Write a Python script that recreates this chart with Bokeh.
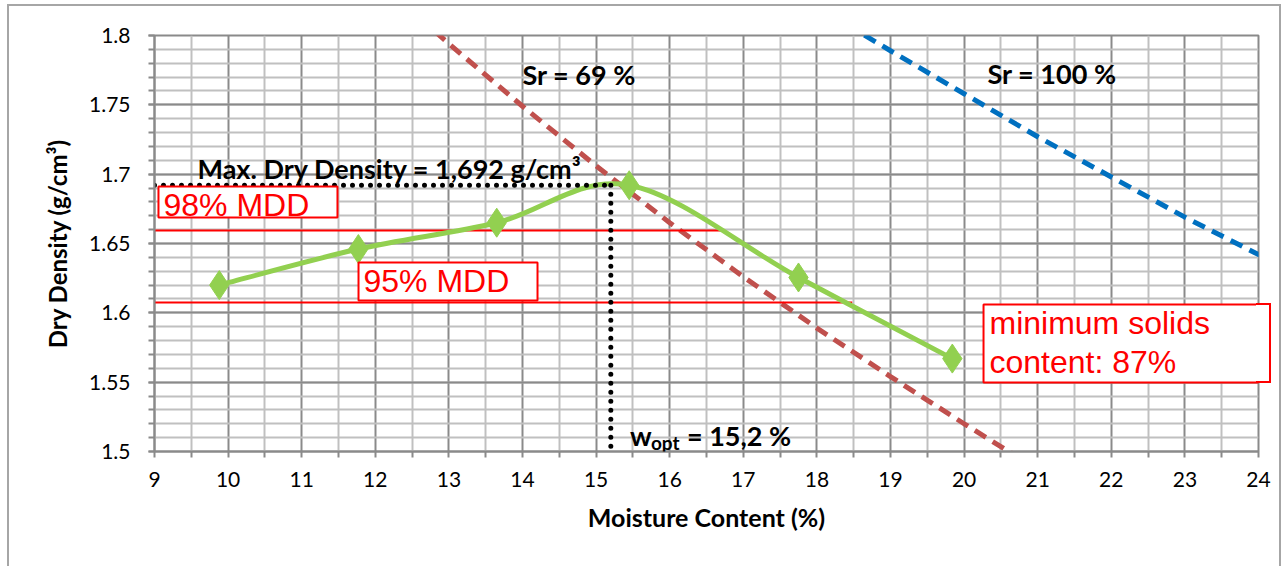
from bokeh.plotting import figure
from bokeh.models import FixedTicker, Label, BoxAnnotation, Range1d, InlineStyleSheet
from bokeh.embed import file_html
from bokeh.resources import INLINE

# ---- data ----
moisture = [9.88, 11.77, 13.65, 15.45, 17.75, 19.84]
dry_density = [1.620, 1.646, 1.665, 1.692, 1.6255, 1.567]

sr69_w = [12.6, 13.0, 14.0, 15.0, 16.0, 17.0, 18.0, 19.0, 20.0, 21.0]
sr69_rho = [1.813, 1.794, 1.749, 1.706, 1.665, 1.626, 1.589, 1.554, 1.520, 1.487]

sr100_w = [18.4, 19.0, 20.0, 21.0, 22.0, 23.0, 24.0, 24.2]
sr100_rho = [1.808, 1.789, 1.758, 1.727, 1.698, 1.669, 1.642, 1.637]

mdd = 1.692
w_opt = 15.2
mdd98_x = [9.0, 16.72]
mdd98_y = [1.6594, 1.6594]
mdd95_x = [9.0, 18.48]
mdd95_y = [1.6074, 1.6074]
mdd_h_x = [9.0, w_opt]
mdd_h_y = [mdd, mdd]
wopt_v_x = [w_opt, w_opt]
wopt_v_y = [mdd, 1.5]

x_ticks = list(range(9, 25))
x_minor = [9.5 + i for i in range(15)]
y_ticks = [1.5, 1.55, 1.6, 1.65, 1.7, 1.75, 1.8]
y_labels = ["1.5", "1.55", "1.6", "1.65", "1.7", "1.75", "1.8"]
y_minor = [round(1.5 + 0.01 * i, 2) for i in range(31)]

GREEN = "#92d050"
RED_SR = "#c0504d"
BLUE_SR = "#0070c0"
RED = "#ff0000"
MAJ = "#8a8a8a"
MIN = "#c0c0c0"
FONT = "Lato"
LABFONT = "Liberation Sans"
BY = 10  # baseline correction (px)

outer = InlineStyleSheet(css="""
:host { position: relative; }
:host::after { content: ""; position: absolute; left: 7px; top: 4px; width: 1274px; height: 562px;
  border: 2px solid #a6a6a6; border-bottom: none; box-sizing: border-box; pointer-events: none; z-index: 5; }
:host::before { content: ""; position: absolute; left: 1256px; top: 303px; width: 15px; height: 80px;
  background: white; border: 2px solid #ff0000; border-left: none; box-sizing: border-box;
  pointer-events: none; z-index: 5; }
""")

p = figure(width=1283, height=566, output_backend="svg", toolbar_location=None,
           x_range=Range1d(9, 24), y_range=Range1d(1.5, 1.8),
           min_border_left=154, min_border_right=25, min_border_top=35, min_border_bottom=115,
           stylesheets=[outer])
p.background_fill_color = "white"
p.border_fill_color = "white"
p.outline_line_color = MAJ
p.outline_line_width = 2

p.xaxis.ticker = FixedTicker(ticks=x_ticks, minor_ticks=x_minor)
p.yaxis.ticker = FixedTicker(ticks=y_ticks, minor_ticks=y_minor)
p.yaxis.major_label_overrides = {t: l for t, l in zip(y_ticks, y_labels)}

for ax in (p.xaxis, p.yaxis):
    ax.axis_line_color = MAJ
    ax.axis_line_width = 2
    ax.major_tick_line_color = MAJ
    ax.minor_tick_line_color = MAJ
    ax.major_tick_line_width = 2
    ax.minor_tick_line_width = 2
    ax.major_tick_in = 0
    ax.minor_tick_in = 0
    ax.major_tick_out = 6
    ax.minor_tick_out = 6
    ax.major_label_text_font = FONT
    ax.major_label_text_font_size = "21px"
    ax.major_label_text_color = "#000000"
    ax.axis_label_text_font = FONT
    ax.axis_label_text_font_style = "bold"
    ax.axis_label_text_font_size = "25px"
    ax.axis_label_text_color = "#000000"

p.xaxis.axis_label = "Moisture Content (%)"
p.yaxis.axis_label = "Dry Density (g/cm³)"
p.yaxis.axis_label_text_font_size = "24px"
p.xaxis.major_label_standoff = 14
p.yaxis.major_label_standoff = 18
p.xaxis.axis_label_standoff = 12
p.yaxis.axis_label_standoff = 14

for g in (p.xgrid, p.ygrid):
    g.grid_line_color = MAJ
    g.grid_line_width = 2
    g.minor_grid_line_color = MIN
    g.minor_grid_line_width = 2
p.xgrid.level = "underlay"
p.ygrid.level = "underlay"

# saturation lines
p.line(sr69_w, sr69_rho, line_color=RED_SR, line_width=5, line_dash="13 8")
p.line(sr100_w, sr100_rho, line_color=BLUE_SR, line_width=5, line_dash="13 8")

# MDD reference lines
p.line(mdd98_x, mdd98_y, line_color=RED, line_width=2)
p.line(mdd95_x, mdd95_y, line_color=RED, line_width=2)

# smoothed compaction curve (Catmull-Rom -> cubic Bezier, as Excel's smoothed line)
n = len(moisture)
x0, y0, x1, y1, cx0, cy0, cx1, cy1 = [], [], [], [], [], [], [], []
for i in range(n - 1):
    im1 = max(i - 1, 0)
    ip2 = min(i + 2, n - 1)
    x0.append(moisture[i]); y0.append(dry_density[i])
    x1.append(moisture[i + 1]); y1.append(dry_density[i + 1])
    cx0.append(moisture[i] + (moisture[i + 1] - moisture[im1]) / 6)
    cy0.append(dry_density[i] + (dry_density[i + 1] - dry_density[im1]) / 6)
    cx1.append(moisture[i + 1] - (moisture[ip2] - moisture[i]) / 6)
    cy1.append(dry_density[i + 1] - (dry_density[ip2] - dry_density[i]) / 6)
p.bezier(x0=x0, y0=y0, x1=x1, y1=y1, cx0=cx0, cy0=cy0, cx1=cx1, cy1=cy1,
         line_color=GREEN, line_width=5)
p.scatter(moisture, dry_density, marker="diamond", size=29, fill_color=GREEN, line_color=GREEN)

# dotted MDD / w_opt lines
p.line(mdd_h_x, mdd_h_y, line_color="black", line_width=5, line_dash="0 9", line_cap="round")
p.line(wopt_v_x, wopt_v_y, line_color="black", line_width=5, line_dash="0 9", line_cap="round")

# red boxed annotations
def box(l, r, t, b):
    p.add_layout(BoxAnnotation(left=l, right=r, top=t, bottom=b, fill_color="white", fill_alpha=1,
                               line_color=RED, line_width=2, line_alpha=1))

box(9.054, 11.486, 1.6911, 1.6688)
box(11.772, 14.204, 1.6363, 1.6089)
box(20.264, 24.163, 1.606, 1.5498)

def lab(x, y, text, color="black", font=FONT, size="27px", style="bold", x_offset=0, y_offset=0):
    p.add_layout(Label(x=x, y=y, text=text, text_color=color, text_font=font, text_font_size=size,
                       text_font_style=style, text_baseline="alphabetic", text_align="left",
                       x_offset=x_offset, y_offset=y_offset + BY))

lab(9.122, 1.6702, "98% MDD", color=RED, font=LABFONT, size="32px", style="normal")
lab(11.84, 1.6161, "95% MDD", color=RED, font=LABFONT, size="32px", style="normal")
lab(20.345, 1.5851, "minimum solids", color=RED, font=LABFONT, size="32px", style="normal")
lab(20.345, 1.557, "content: 87%", color=RED, font=LABFONT, size="32px", style="normal")

lab(9.584, 1.6969, "Max. Dry Density = 1,692 g/cm³")
lab(14.0, 1.7647, "Sr = 69 %")
lab(20.318, 1.7654, "Sr = 100 %")
lab(15.46, 1.5043, "w")
lab(15.46, 1.5043, "opt", size="19px", x_offset=21, y_offset=-7)
lab(15.46, 1.5043, "= 15,2 %", x_offset=57)

open("out.html", "w").write(file_html(p, INLINE))
